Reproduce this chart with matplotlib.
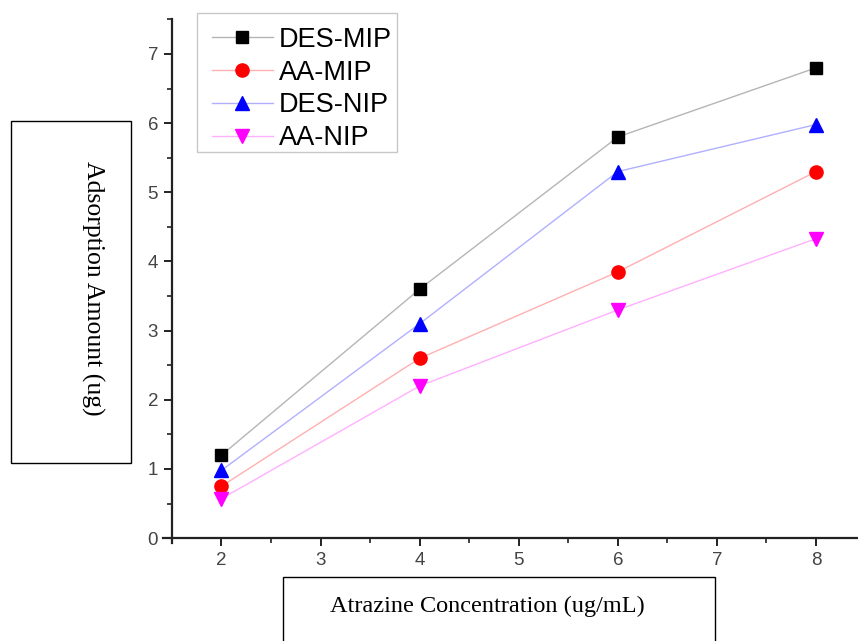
import matplotlib
matplotlib.use("Agg")
import matplotlib.pyplot as plt
from matplotlib.patches import Rectangle
from matplotlib.ticker import MultipleLocator

x = [2, 4, 6, 8]
des_mip = [1.2, 3.6, 5.8, 6.8]
aa_mip = [0.75, 2.6, 3.85, 5.3]
des_nip = [0.98, 3.1, 5.3, 5.98]
aa_nip = [0.57, 2.2, 3.3, 4.33]

series = [
    ("DES-MIP", des_mip, "s", "black", "#b5b5b5", 8.5),
    ("AA-MIP", aa_mip, "o", "red", "#ffb0b0", 9.5),
    ("DES-NIP", des_nip, "^", "blue", "#b0b0ff", 10),
    ("AA-NIP", aa_nip, "v", "magenta", "#ffb0ff", 10),
]

W, H = 858, 641
fig = plt.figure(figsize=(W / 100, H / 100), dpi=100)

def fx(px):
    return px / W

def fy(py):
    return 1 - py / H

ax = fig.add_axes([fx(163), fy(543), fx(858) - fx(163), fy(19.4) - fy(543)])

handles = []
for name, vals, mk, mc, lc, ms in series:
    h, = ax.plot(x, vals, color=lc, lw=1.0, marker=mk, ms=ms,
                 markerfacecolor=mc, markeredgecolor=mc, label=name)
    handles.append(h)

ax.set_xlim(1.41, 8.424)
ax.set_ylim(-0.07, 7.5)
ax.spines['top'].set_visible(False)
ax.spines['right'].set_visible(False)
ax.spines['bottom'].set_position(('data', 0))
ax.spines['left'].set_position(('data', 1.5))
for s in ('bottom', 'left'):
    ax.spines[s].set_linewidth(1.6)
    ax.spines[s].set_color('#222222')

ax.xaxis.set_major_locator(MultipleLocator(1))
ax.xaxis.set_minor_locator(MultipleLocator(0.5))
ax.yaxis.set_major_locator(MultipleLocator(1))
ax.yaxis.set_minor_locator(MultipleLocator(0.5))
ax.set_xticks([2, 3, 4, 5, 6, 7, 8])
ax.set_yticks([0, 1, 2, 3, 4, 5, 6, 7])
ax.tick_params(which='major', direction='out', length=6, width=1.4,
               color='#222222', labelsize=13.5, labelcolor='#444444', pad=4)
ax.tick_params(which='minor', direction='out', length=3.5, width=1.2, color='#222222')
for lbl in ax.get_xticklabels() + ax.get_yticklabels():
    lbl.set_fontfamily('Liberation Sans')

# legend frame
frame = Rectangle((fx(197), fy(152)), fx(397) - fx(197), fy(13) - fy(152),
                  transform=fig.transFigure, facecolor='white',
                  edgecolor='#c8c8c8', lw=1.0, zorder=4, clip_on=False)
ax.add_artist(frame)
leg = ax.legend(handles=handles, loc='upper left',
                bbox_to_anchor=(fx(197), fy(12)), bbox_transform=fig.transFigure,
                prop={'family': 'Liberation Sans', 'size': 19.5},
                frameon=False,
                handlelength=2.25, handletextpad=0.22, labelspacing=0.25,
                borderpad=0.55, borderaxespad=0)
leg.set_zorder(5)

# y label box
fig.patches.append(Rectangle((fx(11), fy(463)), fx(131) - fx(11), fy(121) - fy(463),
                             transform=fig.transFigure, fill=False,
                             edgecolor='black', lw=1.0))
fig.text(fx(93), fy(288), "Adsorption Amount (ug)", rotation=270,
         ha='center', va='center', family='Liberation Serif', fontsize=18.5)

# x label box
fig.patches.append(Rectangle((fx(283), fy(650)), fx(715) - fx(283), fy(577) - fy(650),
                             transform=fig.transFigure, fill=False,
                             edgecolor='black', lw=1.0, clip_on=False))
fig.text(fx(487), fy(606), "Atrazine Concentration (ug/mL)",
         ha='center', va='center', family='Liberation Serif', fontsize=17.5)

fig.savefig("out.png", dpi=100)
